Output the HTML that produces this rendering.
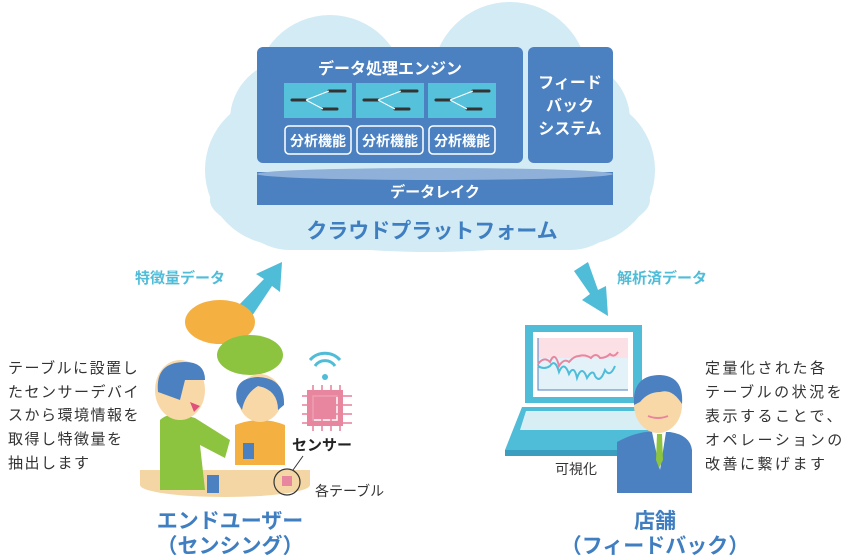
<!DOCTYPE html>
<html><head><meta charset="utf-8"><style>
body{margin:0;background:#fff}
svg{display:block}
text{font-family:"Liberation Sans","Noto Sans CJK JP",sans-serif}
</style></head><body>
<svg width="850" height="560" viewBox="0 0 850 560" xmlns="http://www.w3.org/2000/svg">
<g fill="#d2ebf4">
<circle cx="510" cy="80" r="78"/>
<circle cx="330" cy="90" r="75"/>
<circle cx="280" cy="170" r="75"/>
<circle cx="580" cy="170" r="75"/>
<rect x="230" y="60" width="400" height="190" rx="60"/>
<ellipse cx="430" cy="200" rx="220" ry="52"/>
</g>
<rect x="257" y="47" width="266" height="116" rx="6" fill="#4b80c1"/>
<rect x="528" y="47" width="85" height="116" rx="6" fill="#4b80c1"/>
<text x="390" y="74" font-size="16" fill="#fff" text-anchor="middle" font-weight="bold">データ処理エンジン</text>
<g font-size="16" fill="#fff" text-anchor="middle" font-weight="bold">
<text x="570" y="88">フィード</text><text x="570" y="111">バック</text><text x="570" y="134">システム</text></g>
<g id="t">
<rect x="284" y="83" width="68" height="35" fill="#55c1da"/>
<g stroke="#333" stroke-width="3" stroke-linecap="round"><line x1="292" y1="100" x2="306" y2="100"/><line x1="329" y1="91" x2="345" y2="91"/><line x1="323" y1="109" x2="337" y2="109"/></g>
<g stroke="#fff" stroke-width="1" fill="none"><path d="M306 100 L329 91 M306 100 L323 109"/></g>
<rect x="285" y="126" width="66" height="28" rx="4" fill="none" stroke="#fff" stroke-width="1.5"/>
<text x="318" y="146" font-size="14" fill="#fff" text-anchor="middle" font-weight="bold">分析機能</text>
</g>
<use href="#t" x="72"/><use href="#t" x="144"/>
<rect x="257" y="172" width="356" height="33" fill="#4b80c1"/>
<ellipse cx="435" cy="174" rx="178" ry="6" fill="#8fb0d8"/>
<text x="435" y="197" font-size="15" fill="#fff" text-anchor="middle" font-weight="bold">データレイク</text>
<text x="432" y="238" font-size="21" fill="#3f7ec0" text-anchor="middle" font-weight="bold">クラウドプラットフォーム</text>
<g fill="#4fbcd8">
<polygon points="238,306 252,316 272,286 280,292 282,262 256,274 264,279"/>
<polygon points="588,262 574,271 590,294 582,300 608,316 606,286 598,290"/>
</g>
<text x="135" y="283" font-size="15" fill="#4fbcd8" font-weight="bold">特徴量データ</text>
<text x="617" y="283" font-size="15" fill="#4fbcd8" font-weight="bold">解析済データ</text>
<g font-size="15" fill="#333" letter-spacing="1.5">
<text x="8" y="373">テーブルに設置し</text><text x="8" y="397">たセンサーデバイ</text><text x="8" y="420">スから環境情報を</text><text x="8" y="444">取得し特徴量を</text><text x="8" y="468">抽出します</text>
</g>
<ellipse cx="220" cy="322" rx="35" ry="22" fill="#f5b042"/>
<ellipse cx="250" cy="355" rx="33" ry="20" fill="#8cc33f"/>
<ellipse cx="225" cy="485" rx="85" ry="12" fill="#f3d6a4"/>
<rect x="140" y="470" width="170" height="15" fill="#f3d6a4"/>
<path d="M160 420 Q170 410 195 418 L230 440 L225 458 L200 445 L205 490 L160 490 Z" fill="#8cc33f"/>
<ellipse cx="180" cy="390" rx="25" ry="30" fill="#f9d8a8"/>
<path d="M158 392 Q155 362 185 362 Q205 362 205 380 L185 380 L180 400 Z" fill="#4b80c1"/>
<path d="M190 402 l10 4 l-6 6z" fill="#e0507a"/>
<path d="M235 425 Q260 415 285 425 L285 465 L235 465 Z" fill="#f5b042"/>
<ellipse cx="260" cy="398" rx="22" ry="24" fill="#f9d8a8"/>
<path d="M237 402 Q232 378 258 377 Q285 378 284 405 L278 410 Q278 390 258 386 Q245 394 242 410 Z" fill="#4b80c1"/>
<rect x="243" y="443" width="11" height="16" fill="#4b80c1"/>
<rect x="207" y="475" width="12" height="18" fill="#4b80c1"/>
<path d="M310 360 a20 20 0 0 1 30 0 M315 366 a12 12 0 0 1 20 0" stroke="#4fbcd8" stroke-width="3" fill="none"/>
<circle cx="325" cy="377" r="3" fill="#4fbcd8"/>
<rect x="307" y="390" width="36" height="36" fill="#e9869f"/>
<rect x="313" y="396" width="24" height="24" fill="#e9869f" stroke="#fff" stroke-width="1.5"/>
<g stroke="#e9869f" stroke-width="2"><path d="M302 396h50M302 405h50M302 414h50M302 423h50M313 385v46M322 385v46M331 385v46M340 385v46" opacity="0.8"/></g>
<text x="292" y="450" font-size="15" fill="#222" font-weight="bold">センサー</text>
<circle cx="287" cy="482" r="13" fill="none" stroke="#333" stroke-width="1.2"/>
<rect x="282" y="476" width="10" height="10" fill="#e9869f"/>
<line x1="293" y1="470" x2="303" y2="456" stroke="#333"/>
<text x="315" y="496" font-size="14" fill="#333">各テーブル</text>
<text x="230" y="528" font-size="21" fill="#3f7ec0" text-anchor="middle" font-weight="bold">エンドユーザー</text>
<text x="230" y="553" font-size="21" fill="#3f7ec0" text-anchor="middle" font-weight="bold">（センシング）</text>
<rect x="525" y="325" width="117" height="78" fill="#4fbcd8"/>
<rect x="533" y="332" width="100" height="65" fill="#fff"/>
<rect x="538" y="338" width="90" height="20" fill="#fbe0e6"/>
<rect x="538" y="358" width="90" height="32" fill="#e3f2f9"/>
<path d="M538 338 V390 H628" stroke="#4b80c1" fill="none"/>
<path d="M538 364 q6 -8 12 -2 q5 -12 9 4 q5 -8 10 -4 q5 -6 10 -6 q6 -2 12 2 q5 -6 9 0 q6 0 10 -4 q4 4 8 -2" stroke="#e9869f" stroke-width="2" fill="none"/>
<path d="M538 366 q6 4 12 0 q5 -8 9 6 q5 -12 10 2 q5 -10 8 4 q5 -14 10 0 q6 -10 8 -2 q5 8 10 -6 q5 8 10 -4" stroke="#4fbcd8" stroke-width="2" fill="none"/>
<polygon points="522,407 645,407 660,450 505,450" fill="#4fbcd8"/>
<polygon points="526,411 640,411 648,430 520,430" fill="#d7eef5"/>
<rect x="505" y="450" width="155" height="6" fill="#3a9ec0"/>
<text x="555" y="474" font-size="14" fill="#333">可視化</text>
<path d="M617 442 Q640 430 655 432 L670 432 Q690 435 692 450 L692 493 L617 493 Z" fill="#4b80c1"/>
<polygon points="652,432 666,432 660,470" fill="#fff"/>
<polygon points="657,434 662,434 663,460 659,468 656,460" fill="#8cc33f"/>
<ellipse cx="658" cy="405" rx="24" ry="28" fill="#f9d8a8"/>
<path d="M634 405 Q632 375 660 375 Q684 376 682 404 Q672 388 660 392 Q648 392 640 402 Z" fill="#4b80c1"/>
<path d="M648 416 q10 4 20 0" stroke="#e9869f" stroke-width="2" fill="none"/>
<g font-size="15" fill="#333" letter-spacing="2.5">
<text x="705" y="373">定量化された各</text><text x="705" y="397">テーブルの状況を</text><text x="705" y="421">表示することで、</text><text x="705" y="445">オペレーションの</text><text x="705" y="469">改善に繋げます</text>
</g>
<text x="655" y="528" font-size="21" fill="#3f7ec0" text-anchor="middle" font-weight="bold">店舗</text>
<text x="655" y="553" font-size="21" fill="#3f7ec0" text-anchor="middle" font-weight="bold">（フィードバック）</text>
</svg>
</body></html>
